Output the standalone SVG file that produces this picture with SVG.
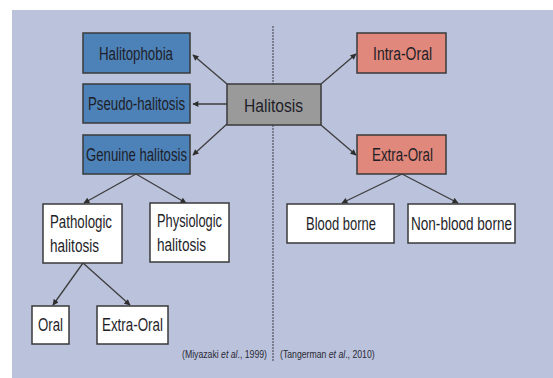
<svg xmlns="http://www.w3.org/2000/svg" width="553" height="378" viewBox="0 0 553 378">
<style>
  .bg { fill: #bbc2dc; }
  .box { stroke: #3a3a3a; stroke-width: 1.5; }
  .blue { fill: #4d82b8; }
  .red { fill: #e0887b; }
  .gray { fill: #9a9a9a; }
  .white { fill: #ffffff; }
  .lbl { font-family: "Liberation Sans", Arial, sans-serif; fill: #1e1e28; font-size: 17.5px; }
  .cite { font-family: "Liberation Sans", Arial, sans-serif; fill: #2a2a35; font-size: 10px; }
  .it { font-style: italic; }
  .conn line { stroke: #3d3d3d; stroke-width: 1.3; marker-end: url(#arr); }
</style>
<defs>
  <marker id="arr" viewBox="0 0 10 10" refX="9" refY="5" markerWidth="7" markerHeight="6" markerUnits="userSpaceOnUse" orient="auto">
    <path d="M0,0 L10,5 L0,10 z" fill="#2e2e2e"/>
  </marker>
</defs>
<rect x="0" y="0" width="553" height="378" fill="#ffffff"/>
<rect class="bg" x="12" y="10" width="541" height="368"/>
<line x1="273" y1="26" x2="273" y2="362" stroke="#3a3a45" stroke-width="1" stroke-dasharray="2 1"/>

<g id="connectors" class="conn">
  <line x1="227" y1="84" x2="193" y2="55"/>
  <line x1="227" y1="104" x2="193" y2="104"/>
  <line x1="227" y1="124" x2="193" y2="155"/>
  <line x1="321" y1="84" x2="356" y2="54"/>
  <line x1="321" y1="125" x2="356" y2="155"/>
  <line x1="136" y1="174" x2="84" y2="203"/>
  <line x1="136" y1="174" x2="186" y2="203"/>
  <line x1="83" y1="263" x2="53" y2="305"/>
  <line x1="83" y1="263" x2="130" y2="305"/>
  <line x1="402" y1="174" x2="342" y2="203"/>
  <line x1="402" y1="174" x2="458" y2="203"/>
</g>

<g id="halitophobia">
  <rect class="box blue" x="83" y="33" width="107" height="40"/>
  <text class="lbl" x="99" y="59.5" textLength="74" lengthAdjust="spacingAndGlyphs">Halitophobia</text>
</g>
<g id="pseudo-halitosis">
  <rect class="box blue" x="83" y="84" width="107" height="39"/>
  <text class="lbl" x="88" y="109.5" textLength="97" lengthAdjust="spacingAndGlyphs">Pseudo-halitosis</text>
</g>
<g id="genuine-halitosis">
  <rect class="box blue" x="83" y="135" width="107" height="39"/>
  <text class="lbl" x="86" y="160.5" textLength="101" lengthAdjust="spacingAndGlyphs">Genuine halitosis</text>
</g>
<g id="halitosis">
  <rect class="box gray" x="227" y="84" width="94" height="41"/>
  <text class="lbl" x="244" y="111.5" font-size="21" textLength="59" lengthAdjust="spacingAndGlyphs">Halitosis</text>
</g>
<g id="intra-oral">
  <rect class="box red" x="357" y="33" width="89" height="40"/>
  <text class="lbl" x="373" y="59.5" textLength="59" lengthAdjust="spacingAndGlyphs">Intra-Oral</text>
</g>
<g id="extra-oral-right">
  <rect class="box red" x="357" y="135" width="89" height="39"/>
  <text class="lbl" x="372" y="160.5" textLength="61" lengthAdjust="spacingAndGlyphs">Extra-Oral</text>
</g>
<g id="pathologic">
  <rect class="box white" x="43" y="204" width="79" height="59"/>
  <text class="lbl" x="50" y="228" textLength="62" lengthAdjust="spacingAndGlyphs">Pathologic</text>
  <text class="lbl" x="50" y="252" textLength="49" lengthAdjust="spacingAndGlyphs">halitosis</text>
</g>
<g id="physiologic">
  <rect class="box white" x="150" y="203" width="79" height="59"/>
  <text class="lbl" x="157" y="227" textLength="65" lengthAdjust="spacingAndGlyphs">Physiologic</text>
  <text class="lbl" x="157" y="251" textLength="49" lengthAdjust="spacingAndGlyphs">halitosis</text>
</g>
<g id="oral">
  <rect class="box white" x="32" y="306" width="37" height="38"/>
  <text class="lbl" x="38" y="331" textLength="25" lengthAdjust="spacingAndGlyphs">Oral</text>
</g>
<g id="extra-oral-bottom">
  <rect class="box white" x="97" y="306" width="71" height="38"/>
  <text class="lbl" x="102" y="331" textLength="61" lengthAdjust="spacingAndGlyphs">Extra-Oral</text>
</g>
<g id="blood-borne">
  <rect class="box white" x="287" y="204" width="107" height="39"/>
  <text class="lbl" x="306" y="229.5" textLength="70" lengthAdjust="spacingAndGlyphs">Blood borne</text>
</g>
<g id="non-blood-borne">
  <rect class="box white" x="408" y="204" width="107" height="39"/>
  <text class="lbl" x="411" y="229.5" textLength="101" lengthAdjust="spacingAndGlyphs">Non-blood borne</text>
</g>

<text class="cite" transform="translate(182,358) scale(0.87,1)" x="0" y="0">(Miyazaki <tspan class="it">et al</tspan>., 1999)</text>
<text class="cite" transform="translate(280,358) scale(0.87,1)" x="0" y="0">(Tangerman <tspan class="it">et al</tspan>., 2010)</text>
</svg>
